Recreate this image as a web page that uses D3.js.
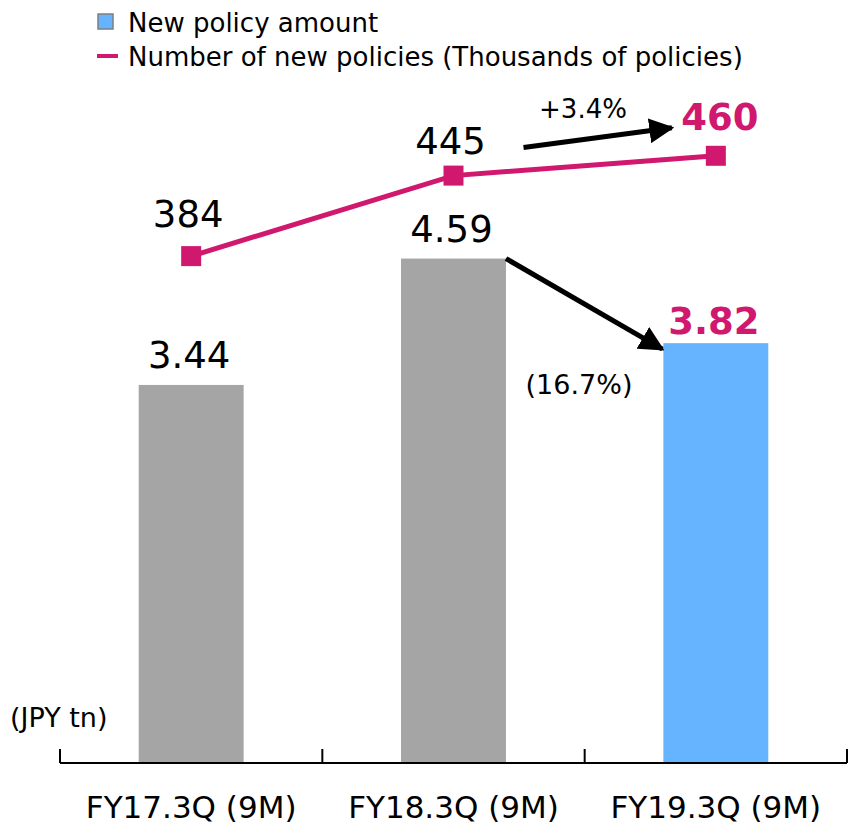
<!DOCTYPE html>
<html>
<head>
<meta charset="utf-8">
<script src="https://cdn.jsdelivr.net/npm/d3@7"></script>
<style>
  body { margin: 0; background: #fff; }
  svg text { font-family: "DejaVu Sans", Verdana, sans-serif; }
</style>
</head>
<body>
<div id="chart"></div>
<script>
'use strict'

const categories = ['FY17.3Q (9M)', 'FY18.3Q (9M)', 'FY19.3Q (9M)']
const policyAmount = [3.44, 4.59, 3.82]
const policyCount = [384, 445, 460]
const amountLabels = ['3.44', '4.59', '3.82']
const countLabels = ['384', '445', '460']
const countChange = '+3.4%'
const amountChange = '(16.7%)'
const unitLabel = '(JPY tn)'
const legendLabels = ['New policy amount', 'Number of new policies (Thousands of policies)']

const width = 849
const height = 824
const baseY = 763
const magenta = '#D0186F'
const gray = '#A5A5A5'
const blue = '#66B3FF'

const svg = d3.select('#chart')
  .append('svg')
  .attr('width', width)
  .attr('height', height)

svg.append('defs').append('marker')
  .attr('id', 'head')
  .attr('viewBox', '0 0 10 10')
  .attr('refX', 9)
  .attr('refY', 5)
  .attr('markerWidth', 5)
  .attr('markerHeight', 5)
  .attr('markerUnits', 'strokeWidth')
  .attr('orient', 'auto')
  .append('path')
  .attr('d', 'M0,0 L10,5 L0,10 Z')
  .attr('fill', '#000')

const x = d3.scaleBand()
  .domain(categories)
  .range([60, 847])
  .paddingInner(0.6)
  .paddingOuter(0.3)

const yBar = d3.scaleLinear().domain([0, 5]).range([baseY, baseY - 549.5])
const yLine = d3.scaleLinear().domain([0, 500]).range([baseY, baseY - 660])
const mid = d => x(d) + x.bandwidth() / 2

// bars
svg.selectAll('rect.bar')
  .data(policyAmount)
  .enter()
  .append('rect')
  .attr('class', 'bar')
  .attr('x', (d, i) => x(categories[i]))
  .attr('y', d => yBar(d))
  .attr('width', x.bandwidth())
  .attr('height', d => baseY - yBar(d))
  .attr('fill', (d, i) => i === 2 ? blue : gray)

// axis
const axisX = d3.scaleLinear().domain([0, 3]).range([60, 847])
svg.append('line')
  .attr('x1', 60).attr('x2', 847)
  .attr('y1', baseY).attr('y2', baseY)
  .attr('stroke', '#000').attr('stroke-width', 2)
svg.selectAll('line.tick')
  .data(d3.range(4))
  .enter()
  .append('line')
  .attr('class', 'tick')
  .attr('x1', d => axisX(d)).attr('x2', d => axisX(d))
  .attr('y1', baseY).attr('y2', baseY - 14)
  .attr('stroke', '#000').attr('stroke-width', 2)

svg.selectAll('text.cat')
  .data(categories)
  .enter()
  .append('text')
  .attr('class', 'cat')
  .attr('x', d => mid(d))
  .attr('y', 818)
  .attr('text-anchor', 'middle')
  .attr('font-size', 31)
  .attr('fill', '#000')
  .text(d => d)

svg.append('text')
  .attr('x', 10).attr('y', 727)
  .attr('font-size', 27)
  .text(unitLabel)

// line
const line = d3.line()
  .x((d, i) => mid(categories[i]))
  .y(d => yLine(d))

svg.append('path')
  .datum(policyCount)
  .attr('d', line)
  .attr('fill', 'none')
  .attr('stroke', magenta)
  .attr('stroke-width', 5)

svg.selectAll('rect.pt')
  .data(policyCount)
  .enter()
  .append('rect')
  .attr('class', 'pt')
  .attr('x', (d, i) => mid(categories[i]) - 10)
  .attr('y', d => yLine(d) - 10)
  .attr('width', 20)
  .attr('height', 20)
  .attr('fill', magenta)

// value labels
svg.selectAll('text.count')
  .data(policyCount)
  .enter()
  .append('text')
  .attr('class', 'count')
  .attr('x', (d, i) => mid(categories[i]) + (i === 2 ? 4 : -3))
  .attr('y', (d, i) => yLine(d) - (i === 0 ? 29 : i === 1 ? 22 : 26))
  .attr('text-anchor', 'middle')
  .attr('font-size', 37)
  .attr('font-weight', (d, i) => i === 2 ? 'bold' : 'normal')
  .attr('fill', (d, i) => i === 2 ? magenta : '#000')
  .text((d, i) => countLabels[i])

svg.selectAll('text.amount')
  .data(policyAmount)
  .enter()
  .append('text')
  .attr('class', 'amount')
  .attr('x', (d, i) => mid(categories[i]) - 2)
  .attr('y', (d, i) => yBar(d) - (i === 2 ? 9 : 17))
  .attr('text-anchor', 'middle')
  .attr('font-size', 37)
  .attr('font-weight', (d, i) => i === 2 ? 'bold' : 'normal')
  .attr('fill', (d, i) => i === 2 ? magenta : '#000')
  .text((d, i) => amountLabels[i])

// change arrows
svg.append('line')
  .attr('x1', mid(categories[1]) + 70)
  .attr('y1', yLine(policyCount[1]) - 28)
  .attr('x2', mid(categories[2]) - 44)
  .attr('y2', yLine(policyCount[2]) - 28)
  .attr('stroke', '#000')
  .attr('stroke-width', 5)
  .attr('marker-end', 'url(#head)')

svg.append('text')
  .attr('x', 583).attr('y', 118)
  .attr('text-anchor', 'middle')
  .attr('font-size', 26)
  .text(countChange)

svg.append('line')
  .attr('x1', x(categories[1]) + x.bandwidth())
  .attr('y1', yBar(policyAmount[1]))
  .attr('x2', x(categories[2]) - 1)
  .attr('y2', yBar(policyAmount[2]) + 6)
  .attr('stroke', '#000')
  .attr('stroke-width', 5)
  .attr('marker-end', 'url(#head)')

svg.append('text')
  .attr('x', 579).attr('y', 394)
  .attr('text-anchor', 'middle')
  .attr('font-size', 27)
  .text(amountChange)

// legend
svg.append('rect')
  .attr('x', 98).attr('y', 14)
  .attr('width', 15).attr('height', 15)
  .attr('fill', blue)
  .attr('stroke', '#7F7F7F')
  .attr('stroke-width', 1.5)
svg.append('line')
  .attr('x1', 97).attr('x2', 118)
  .attr('y1', 56).attr('y2', 56)
  .attr('stroke', magenta)
  .attr('stroke-width', 4)
svg.selectAll('text.legend')
  .data(legendLabels)
  .enter()
  .append('text')
  .attr('class', 'legend')
  .attr('x', 128)
  .attr('y', (d, i) => 32 + i * 34)
  .attr('font-size', 26)
  .text(d => d)
</script>
</body>
</html>
